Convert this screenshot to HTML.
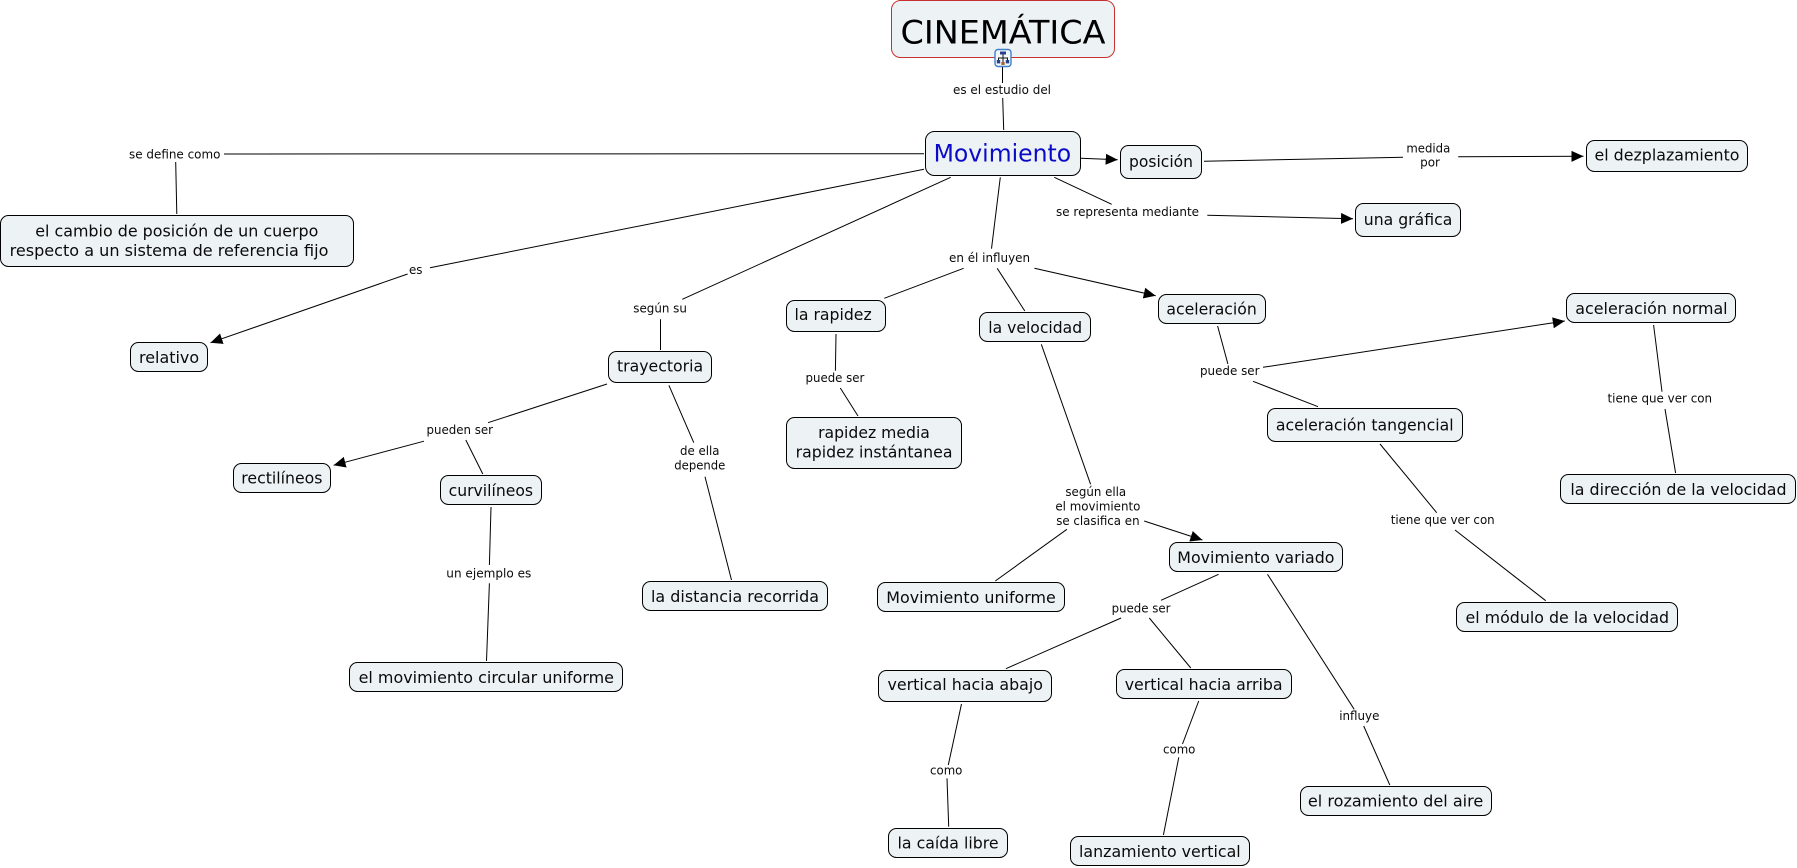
<!DOCTYPE html>
<html><head><meta charset="utf-8"><title>CINEMÁTICA</title>
<style>
html,body{margin:0;padding:0;background:#fff;width:1797px;height:868px;overflow:hidden}
svg{display:block}
text{font-family:"DejaVu Sans","Liberation Sans",sans-serif;fill:#0a0a0a}
.n{font-size:16px}.l{font-size:12px}
rect.b{fill:#edf3f5;stroke:#000;stroke-width:1}
line{stroke:#000;stroke-width:1}
</style></head><body>
<svg width="1797" height="868" viewBox="0 0 1797 868" xmlns="http://www.w3.org/2000/svg">
<defs>
<marker id="a" markerUnits="userSpaceOnUse" markerWidth="13" markerHeight="12" refX="12" refY="5.5" orient="auto"><path d="M0,0 L12,5.5 L0,11 z" fill="#000"/></marker>
</defs>

<!-- connectors -->
<g>
<line x1="1002.5" y1="66" x2="1002.5" y2="83"/>
<line x1="1002.7" y1="98" x2="1003.7" y2="130"/>
<line x1="924" y1="153.7" x2="224" y2="154"/>
<line x1="175.7" y1="162" x2="176.8" y2="214"/>
<line x1="924" y1="169.3" x2="430" y2="267.7"/>
<line x1="407.6" y1="274" x2="210.5" y2="342.7" marker-end="url(#a)"/>
<line x1="950.7" y1="177.3" x2="682.3" y2="299.3"/>
<line x1="660.5" y1="319.3" x2="660.5" y2="350"/>
<line x1="607" y1="384" x2="488" y2="422.7"/>
<line x1="424" y1="441.2" x2="333.6" y2="465.3" marker-end="url(#a)"/>
<line x1="465.8" y1="440" x2="482.8" y2="474"/>
<line x1="491" y1="507" x2="489.4" y2="565"/>
<line x1="489.4" y1="583.3" x2="486.5" y2="661"/>
<line x1="668.9" y1="385.3" x2="693.8" y2="442.7"/>
<line x1="705" y1="476.7" x2="731.5" y2="580"/>
<line x1="1000.3" y1="177.3" x2="991.5" y2="248.7"/>
<line x1="963.6" y1="268.3" x2="884.3" y2="298.3"/>
<line x1="836" y1="334" x2="835.4" y2="370.7"/>
<line x1="840.3" y1="388" x2="858" y2="416"/>
<line x1="997.2" y1="268.3" x2="1024.8" y2="311"/>
<line x1="1034.4" y1="268.3" x2="1155.7" y2="295.7" marker-end="url(#a)"/>
<line x1="1041.3" y1="344.3" x2="1090.6" y2="484.3"/>
<line x1="1066.9" y1="529.3" x2="995.3" y2="581"/>
<line x1="1144.2" y1="521" x2="1202.4" y2="540" marker-end="url(#a)"/>
<line x1="1218.6" y1="574.3" x2="1161" y2="600.3"/>
<line x1="1121.1" y1="618" x2="1005.9" y2="668.7"/>
<line x1="1149.3" y1="618" x2="1190.8" y2="668"/>
<line x1="961.5" y1="704" x2="948.3" y2="765"/>
<line x1="947" y1="778.3" x2="948.7" y2="826.7"/>
<line x1="1198.7" y1="701" x2="1182.5" y2="744"/>
<line x1="1178.8" y1="757.3" x2="1163.4" y2="835"/>
<line x1="1267.5" y1="574.3" x2="1354.2" y2="709.3"/>
<line x1="1363.7" y1="726" x2="1389.8" y2="785"/>
<line x1="1081" y1="158.3" x2="1117.7" y2="159.7" marker-end="url(#a)"/>
<line x1="1204" y1="161.2" x2="1403" y2="157.3"/>
<line x1="1458.2" y1="156.7" x2="1583.5" y2="156.3" marker-end="url(#a)"/>
<line x1="1054.3" y1="177.3" x2="1111.7" y2="204.3"/>
<line x1="1207.3" y1="215.3" x2="1353" y2="218.7" marker-end="url(#a)"/>
<line x1="1217.6" y1="326" x2="1227.9" y2="364"/>
<line x1="1263" y1="367.3" x2="1564.8" y2="321" marker-end="url(#a)"/>
<line x1="1253" y1="381.3" x2="1318" y2="406.7"/>
<line x1="1653.6" y1="325" x2="1662" y2="391.7"/>
<line x1="1665" y1="409" x2="1675.6" y2="473"/>
<line x1="1380" y1="444" x2="1436.7" y2="512.7"/>
<line x1="1455" y1="530" x2="1545.7" y2="600.7"/>
</g>

<!-- nodes -->
<rect class="b" x="891.5" y="0.5" width="223" height="57" rx="9" style="stroke:#c8302f"/>
<rect class="b" x="925.5" y="131.5" width="155" height="44" rx="9"/>
<rect class="b" x="1120.5" y="145.5" width="81" height="33" rx="8"/>
<rect class="b" x="1586.5" y="140.5" width="161" height="31" rx="8"/>
<rect class="b" x="1355.5" y="203.5" width="105" height="33" rx="8"/>
<rect class="b" x="0.5" y="215.5" width="353" height="51" rx="8"/>
<rect class="b" x="130.5" y="342.5" width="77" height="29" rx="8"/>
<rect class="b" x="608.5" y="351.5" width="103" height="31" rx="8"/>
<rect class="b" x="786.5" y="300.5" width="99" height="31" rx="8"/>
<rect class="b" x="979.5" y="312.5" width="111" height="29" rx="8"/>
<rect class="b" x="1158.5" y="294.5" width="107" height="29" rx="8"/>
<rect class="b" x="1566.5" y="293.5" width="169" height="29" rx="8"/>
<rect class="b" x="1267.5" y="408.5" width="195" height="33" rx="8"/>
<rect class="b" x="1560.5" y="474.5" width="235" height="29" rx="8"/>
<rect class="b" x="233.5" y="463.5" width="97" height="29" rx="8"/>
<rect class="b" x="440.5" y="475.5" width="101" height="29" rx="8"/>
<rect class="b" x="786.5" y="417.5" width="175" height="51" rx="8"/>
<rect class="b" x="642.5" y="581.5" width="185" height="29" rx="8"/>
<rect class="b" x="349.5" y="662.5" width="273" height="29" rx="8"/>
<rect class="b" x="877.5" y="582.5" width="187" height="29" rx="8"/>
<rect class="b" x="1169.5" y="542.5" width="173" height="29" rx="8"/>
<rect class="b" x="1456.5" y="602.5" width="221" height="29" rx="8"/>
<rect class="b" x="878.5" y="670.5" width="173" height="31" rx="8"/>
<rect class="b" x="1116.5" y="669.5" width="175" height="29" rx="8"/>
<rect class="b" x="888.5" y="828.5" width="119" height="29" rx="8"/>
<rect class="b" x="1070.5" y="836.5" width="179" height="29" rx="8"/>
<rect class="b" x="1300.5" y="786.5" width="191" height="29" rx="8"/>

<!-- hierarchy icon -->
<g>
<rect x="995" y="49.5" width="16" height="17" rx="3" fill="#f4f8fc" stroke="#3f7fc9" stroke-width="1.4"/>
<path d="M1003 53v6M998.5 61v-3h9v3M1003 59v4" fill="none" stroke="#111" stroke-width="1"/>
<rect x="1000" y="51.5" width="6" height="3" fill="#27408f"/>
<rect x="996.8" y="60" width="3.4" height="3.4" fill="#27408f"/>
<rect x="1005.8" y="60" width="3.4" height="3.4" fill="#27408f"/>
<rect x="1001.3" y="62" width="3.4" height="3" fill="#a8682f"/>
</g>

<!-- node text -->
<g>
<text x="900.5" y="43.3" font-size="32" textLength="205" lengthAdjust="spacingAndGlyphs" style="fill:#000">CINEMÁTICA</text>
<text x="933.6" y="161.7" font-size="24" textLength="137.5" lengthAdjust="spacingAndGlyphs" style="fill:#0a0ac8">Movimiento</text>
<text class="n" x="1129" y="167" textLength="64" lengthAdjust="spacingAndGlyphs">posición</text>
<text class="n" x="1594.5" y="160.3" textLength="145" lengthAdjust="spacingAndGlyphs">el dezplazamiento</text>
<text class="n" x="1363.8" y="225" textLength="88.5" lengthAdjust="spacingAndGlyphs">una gráfica</text>
<text class="n" x="35.2" y="236.7" textLength="283.2" lengthAdjust="spacingAndGlyphs">el cambio de posición de un cuerpo</text>
<text class="n" x="9.6" y="256" textLength="318.8" lengthAdjust="spacingAndGlyphs">respecto a un sistema de referencia fijo</text>
<text class="n" x="139" y="363" textLength="60.1" lengthAdjust="spacingAndGlyphs">relativo</text>
<text class="n" x="617" y="371.7" textLength="86.1" lengthAdjust="spacingAndGlyphs">trayectoria</text>
<text class="n" x="794.5" y="320" textLength="77.2" lengthAdjust="spacingAndGlyphs">la rapidez</text>
<text class="n" x="988.3" y="333" textLength="93.8" lengthAdjust="spacingAndGlyphs">la velocidad</text>
<text class="n" x="1166.4" y="314.6" textLength="90.4" lengthAdjust="spacingAndGlyphs">aceleración</text>
<text class="n" x="1575.3" y="314" textLength="152.3" lengthAdjust="spacingAndGlyphs">aceleración normal</text>
<text class="n" x="1275.9" y="430.7" textLength="177.7" lengthAdjust="spacingAndGlyphs">aceleración tangencial</text>
<text class="n" x="1570.4" y="495" textLength="216.1" lengthAdjust="spacingAndGlyphs">la dirección de la velocidad</text>
<text class="n" x="241.3" y="483.7" textLength="81.2" lengthAdjust="spacingAndGlyphs">rectilíneos</text>
<text class="n" x="448.6" y="496" textLength="84.5" lengthAdjust="spacingAndGlyphs">curvilíneos</text>
<text class="n" x="818.1" y="438" textLength="111.8" lengthAdjust="spacingAndGlyphs">rapidez media</text>
<text class="n" x="795.6" y="457.5" textLength="156.9" lengthAdjust="spacingAndGlyphs">rapidez instántanea</text>
<text class="n" x="651" y="602" textLength="168" lengthAdjust="spacingAndGlyphs">la distancia recorrida</text>
<text class="n" x="358.6" y="683" textLength="255.4" lengthAdjust="spacingAndGlyphs">el movimiento circular uniforme</text>
<text class="n" x="886.3" y="603" textLength="169.5" lengthAdjust="spacingAndGlyphs">Movimiento uniforme</text>
<text class="n" x="1177.3" y="563" textLength="157.2" lengthAdjust="spacingAndGlyphs">Movimiento variado</text>
<text class="n" x="1465.5" y="623" textLength="203.6" lengthAdjust="spacingAndGlyphs">el módulo de la velocidad</text>
<text class="n" x="887.5" y="690" textLength="155.5" lengthAdjust="spacingAndGlyphs">vertical hacia abajo</text>
<text class="n" x="1124.7" y="690" textLength="157.9" lengthAdjust="spacingAndGlyphs">vertical hacia arriba</text>
<text class="n" x="897.5" y="848.7" textLength="101.1" lengthAdjust="spacingAndGlyphs">la caída libre</text>
<text class="n" x="1079" y="857" textLength="161.7" lengthAdjust="spacingAndGlyphs">lanzamiento vertical</text>
<text class="n" x="1307.9" y="806.7" textLength="175.4" lengthAdjust="spacingAndGlyphs">el rozamiento del aire</text>
</g>

<!-- link labels -->
<g>
<text class="l" x="953" y="94" textLength="98" lengthAdjust="spacingAndGlyphs">es el estudio del</text>
<text class="l" x="129" y="158.3" textLength="91.4" lengthAdjust="spacingAndGlyphs">se define como</text>
<text class="l" x="409" y="274" textLength="13.5" lengthAdjust="spacingAndGlyphs">es</text>
<text class="l" x="633.3" y="312.7" textLength="53.6" lengthAdjust="spacingAndGlyphs">según su</text>
<text class="l" x="426.5" y="434.2" textLength="66.5" lengthAdjust="spacingAndGlyphs">pueden ser</text>
<text class="l" x="446.3" y="577.3" textLength="85" lengthAdjust="spacingAndGlyphs">un ejemplo es</text>
<text class="l" x="680" y="455" textLength="39.5" lengthAdjust="spacingAndGlyphs">de ella</text>
<text class="l" x="674.3" y="469.3" textLength="51" lengthAdjust="spacingAndGlyphs">depende</text>
<text class="l" x="949" y="262" textLength="81.1" lengthAdjust="spacingAndGlyphs">en él influyen</text>
<text class="l" x="805.5" y="382" textLength="58.9" lengthAdjust="spacingAndGlyphs">puede ser</text>
<text class="l" x="1065.4" y="496" textLength="60.8" lengthAdjust="spacingAndGlyphs">según ella</text>
<text class="l" x="1055.4" y="510.7" textLength="85" lengthAdjust="spacingAndGlyphs">el movimiento</text>
<text class="l" x="1056.2" y="525" textLength="83.4" lengthAdjust="spacingAndGlyphs">se clasifica en</text>
<text class="l" x="1111.6" y="612.3" textLength="58.9" lengthAdjust="spacingAndGlyphs">puede ser</text>
<text class="l" x="930" y="774.3" textLength="32.4" lengthAdjust="spacingAndGlyphs">como</text>
<text class="l" x="1163" y="753.3" textLength="32.4" lengthAdjust="spacingAndGlyphs">como</text>
<text class="l" x="1339.2" y="720" textLength="40.2" lengthAdjust="spacingAndGlyphs">influye</text>
<text class="l" x="1406.4" y="152.3" textLength="43.9" lengthAdjust="spacingAndGlyphs">medida</text>
<text class="l" x="1420.1" y="166.7" textLength="19.9" lengthAdjust="spacingAndGlyphs">por</text>
<text class="l" x="1056" y="216" textLength="143" lengthAdjust="spacingAndGlyphs">se representa mediante</text>
<text class="l" x="1200" y="375" textLength="59.5" lengthAdjust="spacingAndGlyphs">puede ser</text>
<text class="l" x="1607.5" y="402.7" textLength="104.6" lengthAdjust="spacingAndGlyphs">tiene que ver con</text>
<text class="l" x="1390.7" y="524" textLength="104" lengthAdjust="spacingAndGlyphs">tiene que ver con</text>
</g>
</svg>
</body></html>
